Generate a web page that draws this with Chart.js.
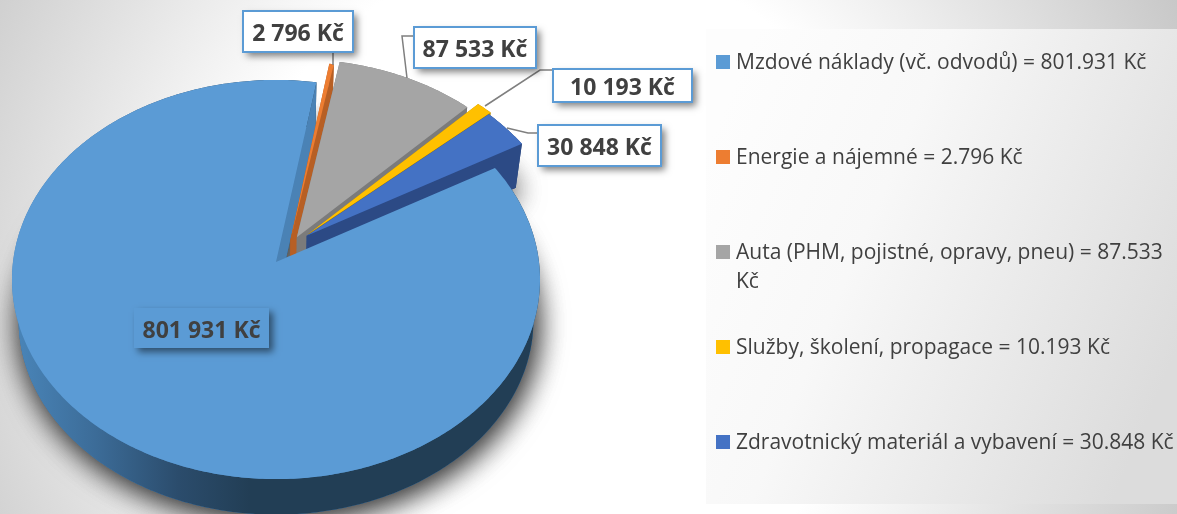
<!DOCTYPE html>
<html><head><meta charset="utf-8">
<script src="https://cdn.jsdelivr.net/npm/chart.js@4"></script>
<style>
html,body{margin:0;padding:0;width:1177px;height:514px;overflow:hidden;
background:radial-gradient(circle at 560px 280px,#ffffff 0,#ffffff 330px,#c6c6c6 690px);}
#w{position:absolute;left:0;top:0;width:1177px;height:514px}
</style></head><body><div id="w"><canvas id="c" width="1177" height="514"></canvas></div>
<script>
const categories = ["Mzdové náklady (vč. odvodů)","Energie a nájemné","Auta (PHM, pojistné, opravy, pneu)","Služby, školení, propagace","Zdravotnický materiál a vybavení"];
const values = [801931,2796,87533,10193,30848];
const colors = ["#5b9bd5","#ed7d31","#a5a5a5","#ffc000","#4472c4"];
const wallColors = ["#4a82b5","#b75f24","#7b7b7b","#b98b00","#2c4a85"];

// exploded-slice shift in the pie plane, 3D projection and layout constants
const explodeX = [0,.055,.08,.126,.118];
const explodeY = [0,.111,.126,.144,.134];
const persp = .0877, tilt = .753, depth = 41, lowerScale = .975, radiusScale = 263/252;
const labelBoxes = [[134,308,135,40],[243,11,110,41],[414,27,122,41],[553,69,139,33],[538,125,123,41]];
const leaders = [null,[[333,52],[333,65]],[[414,36],[402,36],[407,78]],[[553,70],[540,70],[485,106]],[[538,133],[528,133],[507,128]]];
const legendY = [62,157,252,347,442];

const fmt = (v,s)=>String(v).replace(/\B(?=(\d{3})+$)/g,s)+" Kč";

function project(el,X,Y,low){
  const R = el.outerRadius*radiusScale, w = 1+persp*Y;
  const sx = R*X/w, sy = -R*tilt*Y/w;
  return low ? [el.x+lowerScale*sx, el.y+depth+lowerScale*sy] : [el.x+sx, el.y+sy];
}
function arcPts(el,i,low,rev){
  const a0 = el.startAngle, a1 = el.endAngle, n = Math.max(2,Math.ceil((a1-a0)/0.012)), p=[];
  for(let k=0;k<=n;k++){const a=a0+(a1-a0)*k/n; p.push(project(el,explodeX[i]+Math.cos(a),explodeY[i]-Math.sin(a),low));}
  return rev?p.reverse():p;
}
const apex=(el,i,low)=>project(el,explodeX[i],explodeY[i],low);
function poly(ctx,p,fill){ctx.beginPath();p.forEach((q,j)=>j?ctx.lineTo(q[0],q[1]):ctx.moveTo(q[0],q[1]));ctx.closePath();ctx.fillStyle=fill;ctx.fill();}
function walls(ctx,el,i,fill){
  const t=arcPts(el,i,false), b=arcPts(el,i,true);
  poly(ctx,t.concat(b.slice().reverse()),fill);
  const a=apex(el,i,false), c=apex(el,i,true);
  poly(ctx,[a,t[0],b[0],c],wallColors[i]);
  poly(ctx,[a,t[t.length-1],b[b.length-1],c],wallColors[i]);
}
function face(ctx,el,i){poly(ctx,[apex(el,i,false)].concat(arcPts(el,i,false)),colors[i]);}

const pie3d = {
  id:'pie3d',
  beforeDatasetsDraw(chart){
    const ctx=chart.ctx, els=chart.getDatasetMeta(0).data;
    ctx.save();
    // soft shadow, cast by the lower rim of the pie
    ctx.shadowColor='rgba(0,0,0,.6)';ctx.shadowBlur=30;ctx.shadowOffsetX=3;ctx.shadowOffsetY=5;
    [0,1].forEach(()=>els.forEach((el,i)=>{
      poly(ctx,[apex(el,i,true)].concat(arcPts(el,i,true)),wallColors[i]);
    }));
    ctx.shadowColor='transparent';ctx.shadowBlur=0;ctx.shadowOffsetX=0;ctx.shadowOffsetY=0;
    const g=ctx.createLinearGradient(12,0,250,0);
    g.addColorStop(0,'#4a86ba');g.addColorStop(.35,'#3c6c98');g.addColorStop(.7,'#2b4c6c');g.addColorStop(1,'#223e55');
    walls(ctx,els[0],0,g);
    [1,2,3,4].forEach(i=>{walls(ctx,els[i],i,wallColors[i]);face(ctx,els[i],i);});
    face(ctx,els[0],0);
    ctx.restore();
    return false;
  },
  afterDraw(chart){
    const ctx=chart.ctx;
    ctx.save();
    // legend panel
    const pg=ctx.createLinearGradient(706,150,1177,350);
    pg.addColorStop(0,'#fdfdfd');pg.addColorStop(.35,'#f8f8f8');pg.addColorStop(1,'#dcdcdc');
    ctx.fillStyle=pg;ctx.fillRect(706,29,471,475);
    // leader lines
    ctx.strokeStyle='#7f7f7f';ctx.lineWidth=1.5;
    leaders.forEach(l=>{if(!l)return;ctx.beginPath();l.forEach((q,j)=>j?ctx.lineTo(q[0],q[1]):ctx.moveTo(q[0],q[1]));ctx.stroke();});
    // data labels
    ctx.textBaseline='middle';
    values.forEach((v,i)=>{
      const [x,y,w,h]=labelBoxes[i];
      ctx.save();
      ctx.shadowColor='rgba(0,0,0,.5)';ctx.shadowBlur=7;ctx.shadowOffsetX=4;ctx.shadowOffsetY=4;
      ctx.fillStyle=i===0?colors[0]:'#fff';ctx.fillRect(x,y,w,h);
      ctx.restore();
      if(i){ctx.strokeStyle=colors[0];ctx.lineWidth=2;ctx.strokeRect(x,y,w,h);}
      ctx.font='bold 23px "Open Sans"';ctx.fillStyle='#404040';ctx.textAlign='center';
      ctx.fillText(fmt(v,' '),x+w/2,y+h/2+3);
    });
    // legend
    ctx.textAlign='left';ctx.font='21px "Open Sans"';
    categories.forEach((c,i)=>{
      const y=legendY[i];
      ctx.fillStyle=colors[i];ctx.fillRect(716,y-7,14,14);
      ctx.fillStyle='#404040';
      const words=(c+' = '+fmt(values[i],'.')).split(' ');let line='',ly=y+1.5;
      words.forEach(wd=>{const t=line?line+' '+wd:wd;
        if(ctx.measureText(t).width>445){ctx.fillText(line,736,ly);line=wd;ly+=29;}else line=t;});
      ctx.fillText(line,736,ly);
    });
    ctx.restore();
  }
};

new Chart(document.getElementById('c'),{
  type:'pie',
  data:{labels:categories,datasets:[{data:values,backgroundColor:colors,borderWidth:0}]},
  options:{responsive:false,animation:false,rotation:60.3,
    layout:{padding:{left:0,right:625,top:10,bottom:0}},
    events:[],
    plugins:{legend:{display:false},tooltip:{enabled:false}}},
  plugins:[pie3d]
});
</script></body></html>
